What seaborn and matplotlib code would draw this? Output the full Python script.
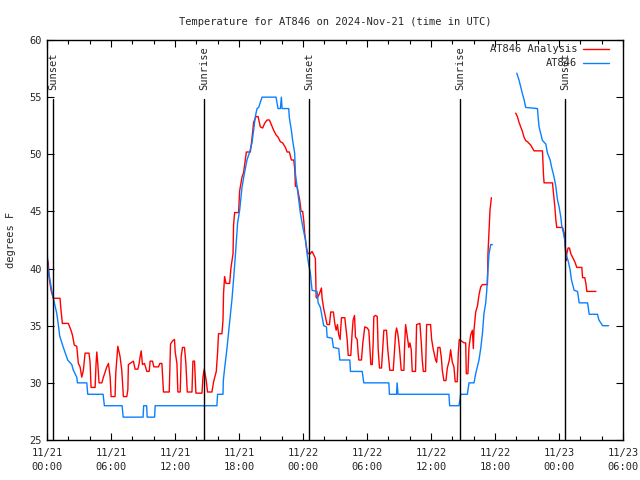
import numpy as np
import pandas as pd
import seaborn as sns
import matplotlib
matplotlib.use("Agg")
import matplotlib.pyplot as plt

# Hours after 2024-11-21 00:00 UTC, temperature in degrees F
obs_hours_1 = [0.0, 0.07, 0.44, 0.69, 0.91, 1.06, 1.19, 1.53, 1.94, 2.32, 2.47, 2.79, 2.85, 3.73, 3.82,
               5.26, 5.38, 7.04, 7.14, 9.01, 9.06, 9.34, 9.39, 10.09, 10.14, 15.93, 15.99, 16.50, 16.53,
               16.62, 16.87, 17.12, 17.34, 17.46, 17.65, 17.87, 18.06, 18.28, 18.50, 18.75, 19.00, 19.22,
               19.37, 19.53, 19.69, 19.84, 20.16, 21.47, 21.66, 21.88, 21.97, 22.04, 22.66, 22.72, 22.91,
               23.03, 23.22, 23.29, 23.45, 23.60, 23.76, 23.97, 24.23, 24.38, 24.54, 24.69, 24.85, 25.32,
               25.42, 25.63, 25.73, 25.94, 26.20, 26.26, 26.73, 26.85, 27.35, 27.45, 28.39, 28.45, 29.55,
               29.70, 32.05, 32.10, 32.77, 32.82, 32.91, 37.68, 37.75, 38.62, 38.71, 38.78, 39.41, 39.56,
               40.03, 40.19, 40.50, 40.66, 40.82, 40.97, 41.13, 41.22, 41.34, 41.44, 41.60, 41.76]
obs_temps_1 = [42.1, 40.2, 38.1, 37.0, 36.1, 35.1, 34.1, 33.1, 32.0, 31.6, 31.1, 30.5, 30.0, 30.0, 29.0,
               29.0, 28.0, 28.0, 27.0, 27.0, 28.0, 28.0, 27.0, 27.0, 28.0, 28.0, 29.0, 29.0, 30.2,
               31.0, 33.0, 35.3, 37.3, 38.7, 41.0, 44.0, 45.1, 47.1, 48.3, 49.5, 50.2, 51.0,
               52.1, 53.3, 54.0, 54.1, 55.0, 55.0, 54.0, 54.0, 55.0, 54.0, 54.0, 53.2, 52.1,
               51.2, 50.1, 48.3, 47.1, 46.0, 44.8, 43.7, 42.5, 41.3, 40.3, 39.6, 38.1, 38.0,
               37.0, 36.6, 36.1, 35.0, 34.9, 34.0, 33.9, 33.1, 33.0, 32.0, 32.0, 31.0, 31.0,
               30.0, 30.0, 29.0, 29.0, 30.0, 29.0, 29.0, 28.0, 28.0, 28.5, 29.0, 29.0, 30.0,
               30.0, 30.8, 32.0, 33.0, 34.3, 36.1, 37.0, 38.0, 39.9, 41.3, 42.1, 42.1]

obs_hours_2 = [44.04, 44.25, 44.41, 44.57, 44.72, 44.88, 45.98, 46.04, 46.13, 46.29, 46.45, 46.76, 46.92,
               47.17, 47.30, 47.54, 47.70, 47.86, 48.01, 48.17, 48.26, 48.42, 48.54, 48.64, 48.85, 49.04,
               49.17, 49.42, 49.74, 49.89, 50.68, 50.83, 51.61, 51.74, 52.09, 52.65]
obs_temps_2 = [57.1, 56.5, 55.9, 55.3, 54.8, 54.1, 54.0, 53.3, 52.4, 51.8, 51.2, 50.9, 50.1,
               49.5, 48.9, 48.0, 47.2, 46.0, 45.4, 44.5, 43.7, 43.1, 42.5, 41.3, 40.7, 39.9,
               39.0, 38.1, 38.0, 37.0, 37.0, 36.0, 36.0, 35.5, 35.0, 35.0]

ana_hours_1 = [0.0, 0.12, 0.19, 0.38, 0.59, 1.22, 1.31, 1.44, 2.00, 2.25, 2.38, 2.56, 2.79, 2.88, 2.94,
               3.10, 3.26, 3.41, 3.57, 3.94, 4.04, 4.13, 4.51, 4.60, 4.67, 4.76, 4.88, 5.14, 5.29, 5.61,
               5.76, 5.92, 6.01, 6.38, 6.45, 6.64, 6.85, 7.01, 7.16, 7.48, 7.58, 7.63, 8.10, 8.26, 8.52,
               8.64, 8.73, 8.83, 8.95, 9.14, 9.36, 9.58, 9.67, 9.89, 10.02, 10.45, 10.58, 10.77, 10.92,
               11.46, 11.58, 11.80, 11.95, 12.02, 12.18, 12.27, 12.49, 12.58, 12.70, 12.89, 13.02, 13.15,
               13.59, 13.68, 13.83, 13.90, 13.96, 14.53, 14.62, 14.74, 14.93, 15.05, 15.46, 15.62, 15.87,
               15.99, 16.08, 16.40, 16.50, 16.55, 16.65, 16.78, 17.12, 17.25, 17.44, 17.49, 17.59, 17.96,
               18.06, 18.28, 18.43, 18.59, 18.69, 19.06, 19.22, 19.37, 19.60, 19.79, 20.00, 20.22, 20.40,
               20.63, 20.85, 21.03, 21.25, 21.47, 21.66, 21.88, 22.09, 22.35, 22.51, 22.72, 22.91, 23.13,
               23.22, 23.29, 23.45, 23.54, 23.69, 23.82, 23.97, 24.07, 24.16, 24.29, 24.38, 24.48, 24.69,
               24.85, 25.00, 25.16, 25.23, 25.32, 25.54, 25.73, 25.79, 25.94, 26.10, 26.26, 26.48, 26.60,
               26.85, 26.98, 27.11, 27.23, 27.35, 27.48, 27.54, 27.61, 27.92, 28.05, 28.14, 28.24, 28.48,
               28.61, 28.70, 28.83, 28.92, 29.08, 29.17, 29.23, 29.48, 29.61, 29.79, 30.02, 30.17, 30.26,
               30.36, 30.49, 30.58, 30.64, 30.80, 30.96, 31.05, 31.17, 31.36, 31.52, 31.58, 31.83, 31.95,
               32.05, 32.14, 32.46, 32.58, 32.68, 32.77, 32.89, 32.99, 33.08, 33.21, 33.46, 33.52, 33.62,
               33.77, 33.92, 34.02, 34.15, 34.24, 34.55, 34.65, 34.96, 35.09, 35.18, 35.28, 35.49, 35.59,
               35.96, 36.06, 36.22, 36.43, 36.53, 36.65, 36.84, 36.97, 37.06, 37.21, 37.40, 37.53, 37.72,
               37.84, 38.00, 38.15, 38.27, 38.46, 38.56, 38.65, 38.94, 39.09, 39.25, 39.31, 39.46, 39.56,
               39.72, 39.88, 39.97, 40.03, 40.19, 40.35, 40.50, 40.66, 40.82, 41.29, 41.34, 41.44, 41.53,
               41.66]
ana_temps_1 = [41.0, 40.5, 39.3, 38.1, 37.4, 37.4, 36.4, 35.2, 35.2, 34.6, 34.2, 33.3, 33.2, 32.3, 31.7,
               31.4, 30.5, 31.1, 32.6, 32.6, 31.8, 29.6, 29.6, 31.7, 32.7, 31.7, 30.0, 30.0, 30.5, 31.4,
               31.7, 30.5, 28.8, 28.8, 30.9, 33.2, 32.3, 31.1, 28.8, 28.8, 29.4, 31.6, 31.9, 31.2, 31.2,
               31.7, 32.3, 32.8, 31.6, 31.7, 31.0, 31.0, 31.9, 31.9, 31.4, 31.4, 31.7, 31.7, 29.2,
               29.2, 33.4, 33.7, 33.8, 32.7, 31.7, 29.2, 29.2, 32.3, 33.1, 33.1, 31.7, 29.2,
               29.2, 31.9, 31.9, 30.5, 29.1, 29.1, 30.5, 31.2, 30.2, 29.2, 29.2, 30.1, 31.0,
               32.6, 34.3, 34.3, 35.5, 37.8, 39.3, 38.7, 38.7, 40.1, 41.3, 43.8, 44.9, 44.9,
               46.8, 48.0, 48.4, 49.5, 50.2, 50.2, 51.4, 52.8, 53.3, 53.3, 52.4, 52.3, 52.7,
               53.0, 53.0, 52.6, 52.1, 51.7, 51.5, 51.1, 51.0, 50.6, 50.2, 50.2, 49.5, 49.5,
               48.8, 47.2, 47.2, 46.7, 46.0, 45.0, 45.0, 44.2, 43.1, 42.1, 41.6, 41.3, 41.3,
               41.5, 41.2, 40.9, 37.5, 37.4, 37.8, 38.3, 37.4, 36.5, 35.8, 35.1, 35.1, 36.2,
               36.2, 35.2, 34.6, 35.1, 34.2, 33.8, 34.8, 35.7, 35.7, 34.6, 33.8, 32.4, 32.4,
               34.4, 35.5, 35.9, 34.0, 33.8, 32.6, 32.0, 32.0, 33.5, 34.9, 34.8, 34.6, 33.1,
               31.6, 31.6, 33.5, 35.8, 35.9, 35.8, 32.9, 31.3, 31.3, 33.8, 34.6, 34.6, 32.9,
               32.0, 31.1, 31.1, 32.9, 34.3, 34.8, 34.3, 33.5, 32.6, 31.1, 31.1, 33.1, 35.1,
               34.1, 33.1, 33.5, 32.9, 31.0, 31.0, 35.1, 35.2, 33.5, 32.0, 31.0, 31.0, 35.1,
               35.1, 33.8, 32.9, 32.0, 31.8, 33.1, 33.1, 32.2, 31.1, 30.2, 30.2, 31.3, 32.0,
               32.9, 31.8, 31.4, 30.1, 30.1, 32.6, 33.8, 33.6, 33.5, 33.5, 30.8, 30.8, 33.1,
               34.2, 34.6, 33.0, 34.6, 36.2, 36.7, 37.7, 38.4, 38.6, 38.6, 41.3, 43.4, 45.1,
               46.2]

ana_hours_2 = [43.94, 44.10, 44.25, 44.41, 44.57, 44.72, 44.88, 45.04, 45.35, 45.66, 46.45, 46.54, 46.60,
               47.39, 47.48, 47.61, 47.70, 47.79, 48.33, 48.48, 48.57, 48.67, 48.73, 48.85, 48.98, 49.11,
               49.27, 49.48, 49.67, 50.14, 50.21, 50.42, 50.52, 50.61, 51.46]
ana_temps_2 = [53.6, 53.3, 52.8, 52.4, 52.0, 51.5, 51.2, 51.1, 50.8, 50.3, 50.3, 48.3, 47.5,
               47.5, 46.6, 45.4, 44.3, 43.6, 43.6, 43.1, 42.2, 40.7, 41.3, 41.8, 41.8, 41.3,
               41.0, 40.6, 40.1, 40.1, 39.2, 39.2, 38.7, 38.0, 38.0]

sun_hours = [0.6, 14.7, 24.55, 38.7, 48.55]
sun_labels = ["Sunset", "Sunrise", "Sunset", "Sunrise", "Sunset"]

tick_hours = [0, 6, 12, 18, 24, 30, 36, 42, 48, 54]
tick_labels = ["11/21\n00:00", "11/21\n06:00", "11/21\n12:00", "11/21\n18:00", "11/22\n00:00",
               "11/22\n06:00", "11/22\n12:00", "11/22\n18:00", "11/23\n00:00", "11/23\n06:00"]

frames = []
for name, seg, h, t in [("AT846 Analysis", 1, ana_hours_1, ana_temps_1),
                        ("AT846 Analysis", 2, ana_hours_2, ana_temps_2),
                        ("AT846", 1, obs_hours_1, obs_temps_1),
                        ("AT846", 2, obs_hours_2, obs_temps_2)]:
    frames.append(pd.DataFrame({"hour": h, "temp": t, "series": name, "seg": seg}))
df = pd.concat(frames, ignore_index=True)

sns.set_style("ticks")
plt.rcParams["font.family"] = ["DejaVu Sans Mono"]
plt.rcParams["font.size"] = 7.5

fig = plt.figure(figsize=(6.4, 4.8), dpi=100)
ax = fig.add_axes([47 / 640, 1 - 440 / 480, 576 / 640, 400 / 480])

sns.lineplot(data=df, x="hour", y="temp", hue="series", units="seg", estimator=None,
             palette={"AT846 Analysis": "#ff0000", "AT846": "#0a80ff"}, linewidth=1.0,
             sort=False, ax=ax)

for h, lab in zip(sun_hours, sun_labels):
    ax.plot([h, h], [25, 54.8], color="black", linewidth=1.0)
    ax.text(h, 55.6, lab, rotation=90, ha="center", va="bottom", fontsize=7.5)

ax.set_xlim(0, 54)
ax.set_ylim(25, 60)
ax.set_xticks(tick_hours)
ax.set_xticklabels(tick_labels, linespacing=1.45)
ax.set_xticks(np.arange(0, 55, 2), minor=True)
ax.set_yticks(np.arange(25, 61, 5))
ax.tick_params(which="both", direction="in", top=True, right=True, color="black")
ax.tick_params(which="major", length=5, width=0.8)
ax.tick_params(which="minor", length=3, width=0.8)
ax.tick_params(axis="x", pad=6)
for s in ax.spines.values():
    s.set_color("black")
    s.set_linewidth(1.0)

ax.set_xlabel("")
ax.set_ylabel("degrees F", labelpad=10)
ax.set_title("Temperature for AT846 on 2024-Nov-21 (time in UTC)", fontsize=7.5, pad=11)

handles, labels = ax.get_legend_handles_labels()
ax.legend(handles, labels, loc="upper right", bbox_to_anchor=(0.978, 0.992), frameon=False,
          markerfirst=False, handlelength=2.5, handletextpad=0.55, labelspacing=0.4,
          borderaxespad=0.0, borderpad=0.1, fontsize=7.5)

fig.savefig("out.png", dpi=100)
